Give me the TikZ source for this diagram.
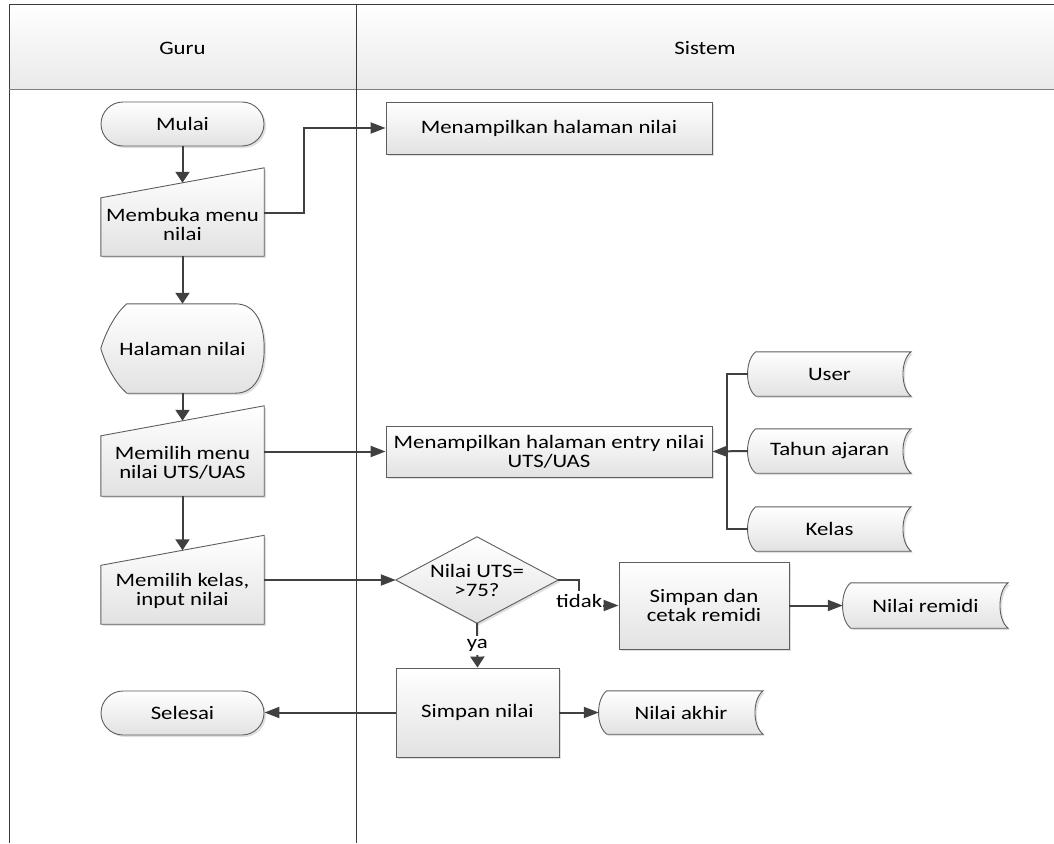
\documentclass[tikz,border=0pt]{standalone}
\usepackage{fontspec}
\setmainfont{Carlito}[FakeStretch=1.2]
\usetikzlibrary{arrows.meta,calc,shadows}
\pgfdeclarelayer{bg}
\pgfsetlayers{bg,main}
\definecolor{linec}{HTML}{404040}
\definecolor{edgec}{HTML}{5E5E5E}
\definecolor{fillbot}{HTML}{E2E2E2}
\definecolor{headbot}{HTML}{E9E9E9}
\definecolor{framec}{HTML}{3A3A3A}

\tikzset{
  txt/.style={font=\fontsize{19}{19}\selectfont, align=center, text=black, inner sep=0pt},
  box/.style={txt, rectangle},
  shp/.style={draw=edgec, line width=0.9pt, top color=white, bottom color=fillbot,
    drop shadow={shadow xshift=2pt, shadow yshift=-2pt, opacity=0.25}},
  conn/.style={draw=linec, line width=2pt},
  arrh/.style={conn, -{Triangle[length=15pt,width=11pt]}},
  arrv/.style={conn, -{Triangle[length=11pt,width=14pt]}},
  lbl/.style={txt, fill=white, inner xsep=1pt, inner ysep=3pt},
  frame/.style={draw=framec, line width=1pt},
}

% manual input outline around a node (sloped top edge)
\newcommand\manualpath[1]{%
  \path[shp] (#1.south west) -- (#1.south east) -- ([yshift=15pt]#1.north east)
    -- ([yshift=-15pt]#1.north west) -- cycle;}
% stored data outline around a node
\newcommand\storedpath[1]{%
  \path[shp] ([xshift=8pt]#1.north west) -- (#1.north east)
    .. controls ([xshift=-11pt,yshift=-8pt]#1.north east) and ([xshift=-11pt,yshift=8pt]#1.south east) .. (#1.south east)
    -- ([xshift=8pt]#1.south west)
    .. controls ([xshift=-3pt,yshift=8pt]#1.south west) and ([xshift=-3pt,yshift=-8pt]#1.north west) .. cycle;}

\begin{document}
\begin{tikzpicture}[x=1pt,y=-1pt]
\useasboundingbox (0,0) rectangle (1054,843);

% swimlanes
\path[top color=white, bottom color=headbot] (9,5) rectangle (1054,89);
\draw[frame] (1054,5) -- (9,5) -- (9,843);
\draw[frame, draw=black!50] (9,89) -- (1054,89);
\draw[frame] (356,5) -- (356,843);
\node[box] (guru) at (182.5,48) {Guru};
\node[box] (sistem) at (705,48) {Sistem};

% Guru lane
\node[box, shp, rounded corners=22pt, minimum width=163pt, minimum height=44pt] (mulai) at (182.5,124) {Mulai};
\node[box, minimum width=163pt, minimum height=73pt] (membuka) at (182.5,219.5) {};
\node[box] (membukatxt) at ([yshift=-5pt]membuka.center) {Membuka menu\\nilai};
\node[box, minimum width=163pt, minimum height=89pt] (halaman) at (182.5,348.5) {Halaman nilai};
\node[box, minimum width=163pt, minimum height=75pt] (pilihmenu) at (182.5,458.5) {};
\node[box] (pilihmenutxt) at ([yshift=-4pt]pilihmenu.center) {Memilih menu\\nilai UTS/UAS};
\node[box, minimum width=163pt, minimum height=73.5pt] (pilihkelas) at (182.5,587.25) {};
\node[box] (pilihkelastxt) at ([yshift=-4pt]pilihkelas.center) {Memilih kelas,\\input nilai};
\node[box, shp, rounded corners=22pt, minimum width=163pt, minimum height=44pt] (selesai) at (182.5,713) {Selesai};

% Sistem lane
\node[box, shp, minimum width=326pt, minimum height=52pt] (tampil) at (549,128) {Menampilkan halaman nilai};
\node[box, shp, minimum width=326pt, minimum height=51pt] (entry) at (549,451.5) {Menampilkan halaman entry nilai\\UTS/UAS};
\node[box, minimum width=163pt, minimum height=44pt] (user) at (829.5,374) {User};
\node[box, minimum width=163pt, minimum height=44pt] (tahun) at (829.5,451) {Tahun ajaran};
\node[box, minimum width=163pt, minimum height=44pt] (kelasdb) at (829.5,529) {Kelas};
\node[box, minimum width=162pt, minimum height=86pt] (cek) at (477,580) {Nilai UTS=\\>75?};
\node[box, shp, minimum width=170pt, minimum height=87pt] (cetak) at (704,605.5) {Simpan dan\\cetak remidi};
\node[box, minimum width=165pt, minimum height=45pt] (remidi) at (925.5,605.5) {Nilai remidi};
\node[box, shp, minimum width=163pt, minimum height=89pt] (simpan) at (477.5,712.5) {Simpan nilai};
\node[box, minimum width=164pt, minimum height=43pt] (akhir) at (681,712.5) {Nilai akhir};

% outlines of the non-rectangular symbols
\begin{pgfonlayer}{bg}
  \manualpath{membuka}
  \manualpath{pilihmenu}
  \manualpath{pilihkelas}
  \path[shp] ([xshift=26pt]halaman.north west) -- ([xshift=-29pt]halaman.north east)
    .. controls ([xshift=-8pt]halaman.north east) and ([yshift=24pt]halaman.east) .. (halaman.east)
    .. controls ([yshift=-24pt]halaman.east) and ([xshift=-8pt]halaman.south east) .. ([xshift=-29pt]halaman.south east)
    -- ([xshift=26pt]halaman.south west)
    .. controls ([xshift=14pt,yshift=10pt]halaman.south west) and ([xshift=4pt,yshift=-14pt]halaman.west) .. (halaman.west)
    .. controls ([xshift=4pt,yshift=14pt]halaman.west) and ([xshift=14pt,yshift=-10pt]halaman.north west) .. cycle;
  \storedpath{user}
  \storedpath{tahun}
  \storedpath{kelasdb}
  \storedpath{remidi}
  \storedpath{akhir}
  \path[shp] (cek.west) -- (cek.north) -- (cek.east) -- (cek.south) -- cycle;
\end{pgfonlayer}

% connectors
\draw[arrv] (mulai.south) -- (membuka.north);
\draw[arrv] (membuka.south) -- (halaman.north);
\draw[arrv] (halaman.south) -- (pilihmenu.north);
\draw[arrv] (pilihmenu.south) -- (pilihkelas.north);
\draw[arrh] ([yshift=7pt]membuka.east) -- ++(40,0) |- (tampil.west);
\draw[arrh] (entry.west -| pilihmenu.east) -- (entry.west);
\draw[conn] (user.west) -- ++(-21,0) |- (kelasdb.west);
\draw[arrh] (tahun.west) -- (entry.east);
\draw[arrh] (cek.west -| pilihkelas.east) -- (cek.west);
\draw[arrh] (cek.east) -- ++(21,0) |- node[lbl, pos=0.5, yshift=5pt] {tidak} (cetak.west);
\draw[arrh] (cetak.east) -- (remidi.west);
\draw[arrv] (cek.south) -- node[lbl, pos=0.5] {ya} (simpan.north);
\draw[arrh] (simpan.west) -- (simpan.west -| selesai.east);
\draw[arrh] (simpan.east) -- (akhir.west);
\end{tikzpicture}
\end{document}
